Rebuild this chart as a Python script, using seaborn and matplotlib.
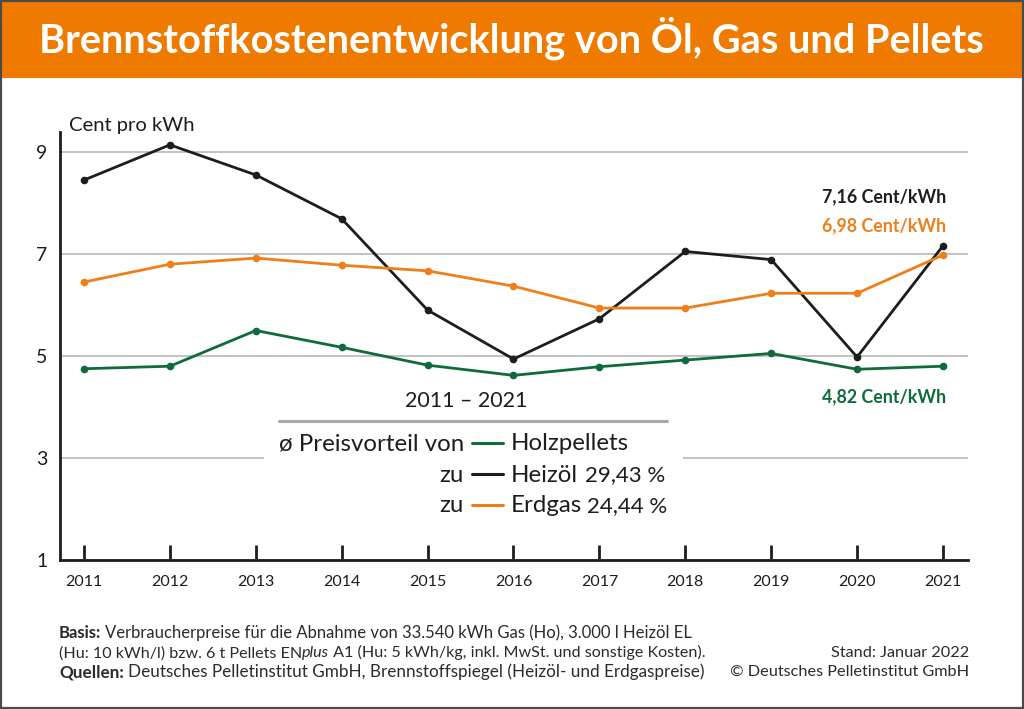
"""plot.py - Brennstoffkostenentwicklung chart"""

import pandas as pd
import matplotlib.pyplot as plt
from matplotlib.lines import Line2D
from matplotlib.patches import Rectangle
import seaborn as sns

W, H = 1024, 709

COLORS = {
    "band": "#EF7A00",
    "frame": "#4A4A49",
    "grid": "#BDBDBC",
    "text": "#1D1D1B",
    "Heizöl": "#1D1D1B",
    "Erdgas": "#EE7F1A",
    "Holzpellets": "#0F6B3A",
}

years = list(range(2011, 2022))
heizoel = [8.45, 9.14, 8.55, 7.69, 5.90, 4.94, 5.73, 7.05, 6.89, 4.98, 7.16]
erdgas = [6.45, 6.80, 6.92, 6.78, 6.67, 6.37, 5.94, 5.94, 6.23, 6.23, 6.98]
pellets = [4.75, 4.80, 5.50, 5.17, 4.82, 4.62, 4.79, 4.92, 5.05, 4.74, 4.80]
y_ticks = [1, 3, 5, 7, 9]

TITLE = "Brennstoffkostenentwicklung von Öl, Gas und Pellets"

sns.set_theme(style="white")
plt.rcParams["font.family"] = ["Lato", "DejaVu Sans"]

df = pd.DataFrame({
    "Jahr": years * 3,
    "Preis": heizoel + erdgas + pellets,
    "Brennstoff": ["Heizöl"] * 11 + ["Erdgas"] * 11 + ["Holzpellets"] * 11,
})

fig = plt.figure(figsize=(W / 100, H / 100), dpi=100, facecolor="white")
ax = fig.add_axes([60 / W, 1 - 560 / H, (968 - 60) / W, (560 - 132) / H])


def px(x, y):
    return x / W, 1 - y / H


def put(x, y, s, **kw):
    kw.setdefault("color", COLORS["text"])
    kw.setdefault("va", "center")
    return fig.text(*px(x, y), s, **kw)


def runs(x, y, parts, size):
    # text pieces with mixed styles, one after the other
    renderer = fig.canvas.get_renderer()
    for s, weight, style in parts:
        t = put(x, y, s, fontsize=size, fontweight=weight, fontstyle=style,
                color="#2B2B2A", va="baseline")
        x += t.get_window_extent(renderer).width + (4 if s.endswith(":") else 0)


# header band and frame
fig.add_artist(Rectangle((0, 1 - 78 / H), 1, 78 / H, transform=fig.transFigure,
                         facecolor=COLORS["band"], edgecolor="none", zorder=0))
fig.add_artist(Rectangle((0, 0), 1, 1, transform=fig.transFigure, fill=False,
                         edgecolor=COLORS["frame"], linewidth=3, zorder=5))
put(511, 38, TITLE, color="white", fontsize=28.6, fontweight="bold", ha="center")

# chart
sns.lineplot(data=df, x="Jahr", y="Preis", hue="Brennstoff",
             hue_order=["Heizöl", "Erdgas", "Holzpellets"],
             palette=COLORS, marker="o", markersize=5.5, markeredgewidth=0,
             linewidth=2, legend=False, ax=ax, zorder=3)

ax.set_xlim(2011 - 24 / 85.8, 2021 + 25 / 85.8)
ax.set_ylim(1, 1 + 428 / 51)
ax.set_xlabel("")
ax.set_ylabel("")
ax.set_xticks(years)
ax.set_yticks(y_ticks)
ax.tick_params(axis="x", direction="in", length=11, width=2, color=COLORS["text"],
               labelsize=11.5, labelcolor=COLORS["text"], pad=11, bottom=True)
ax.tick_params(axis="y", length=0, labelsize=14, labelcolor=COLORS["text"], pad=9)
ax.set_axisbelow(True)
ax.grid(axis="y", color=COLORS["grid"], linewidth=1.3)
ax.grid(axis="x", visible=False)
for side in ["top", "right"]:
    ax.spines[side].set_visible(False)
for side in ["left", "bottom"]:
    ax.spines[side].set_color(COLORS["text"])
    ax.spines[side].set_linewidth(2)

# white box behind the legend block cuts the 3 gridline
ax.add_patch(Rectangle(px(264, 516), (683 - 264) / W, (516 - 430) / H,
                       transform=fig.transFigure, facecolor="white",
                       edgecolor="none", zorder=1.5))

put(69, 125, "Cent pro kWh", fontsize=14.6)

# end labels
put(946, 197, "7,16 Cent/kWh", color=COLORS["Heizöl"], fontsize=12.8, fontweight="bold", ha="right")
put(946, 226, "6,98 Cent/kWh", color=COLORS["Erdgas"], fontsize=12.8, fontweight="bold", ha="right")
put(946, 397, "4,82 Cent/kWh", color=COLORS["Holzpellets"], fontsize=12.8, fontweight="bold", ha="right")

# legend block
LEG = 17.3
NUM = 16
put(466, 401, "2011 – 2021", fontsize=15.5, ha="center")
fig.add_artist(Line2D([279 / W, 667 / W], [1 - 421 / H] * 2, color="#A8A8A7", linewidth=2.2))
put(279, 444, "ø Preisvorteil von", fontsize=LEG)
put(464, 475, "zu", fontsize=LEG, ha="right")
put(464, 506, "zu", fontsize=LEG, ha="right")
for name, yp in [("Holzpellets", 443), ("Heizöl", 474), ("Erdgas", 505)]:
    fig.add_artist(Line2D([472 / W, 503 / W], [1 - yp / H] * 2, color=COLORS[name], linewidth=2.2))
    put(511, yp + 1, name, fontsize=LEG)
put(665, 475, "29,43 %", fontsize=NUM, ha="right")
put(667, 506, "24,44 %", fontsize=NUM, ha="right")

# footer, sizes per line so the line ends come out right
fig.canvas.draw()
runs(59, 638, [("Basis:", "bold", "normal"),
               ("Verbraucherpreise für die Abnahme von 33.540 kWh Gas (Ho), 3.000 l Heizöl EL", "normal", "normal")], 12.0)
runs(59, 657.5, [("(Hu: 10 kWh/l) bzw. 6 t Pellets EN", "normal", "normal"), ("plus", "normal", "italic"),
                 (" A1 (Hu: 5 kWh/kg, inkl. MwSt. und sonstige Kosten).", "normal", "normal")], 11.6)
runs(59, 677, [("Quellen:", "bold", "normal"),
               ("Deutsches Pelletinstitut GmbH, Brennstoffspiegel (Heizöl- und Erdgaspreise)", "normal", "normal")], 12.3)
put(969, 653, "Stand: Januar 2022", fontsize=11.7, ha="right", color="#2B2B2A")
put(969, 672, "© Deutsches Pelletinstitut GmbH", fontsize=11.7, ha="right", color="#2B2B2A")

fig.savefig("out.png", dpi=100)
